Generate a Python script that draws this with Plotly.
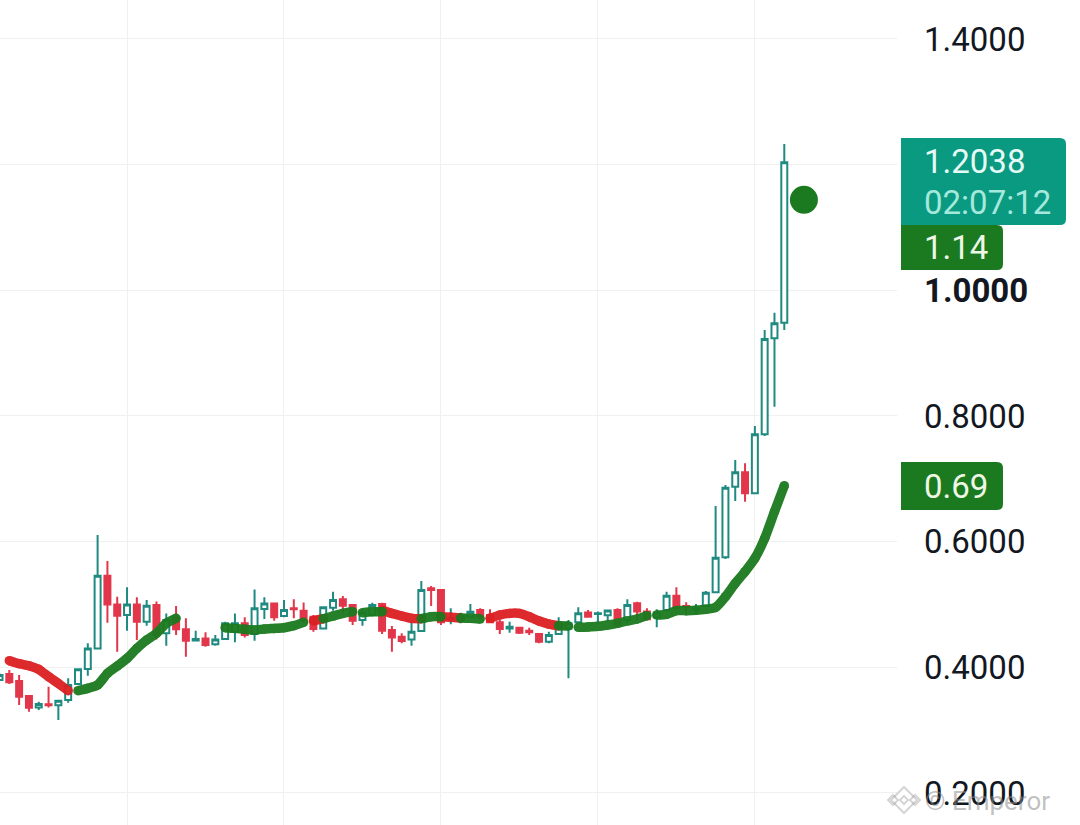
"""Candlestick chart with a thick moving average line and price labels on the right."""
import plotly.graph_objects as go

opens = [.3797, .3893, .3781, .3543, .3362, .3410, .3394, .3479, .3734, .3972,
         .4301, .5458, .5001, .4832, .5001, .4726, .4991, .4540, .4795, .4604,
         .4428, .4460, .4365, .4450, .4566, .4699, .4529, .4927, .5017, .4816,
         .4938, .4901, .4805, .4619, .4948, .5081, .4991, .4752, .4832, .5007,
         .4593, .4487, .4444, .4577, .5256, .5230, .4763, .4779, .4805, .4911,
         .4832, .4715, .4619, .4630, .4582, .4529, .4407, .4529, .4619, .4715,
         .4870, .4849, .4827, .4912, .4753, .5018, .4886, .4796, .4912, .5140,
         .4976, .4912, .4976, .5193, .5750, .6875, .7103, .6769, .7708, .9235,
         .9485]
highs = [.3900, .3956, .3877, .3543, .3452, .3691, .3479, .3824, .3983, .4381,
         .6105, .5691, .5123, .5272, .5113, .5070, .5049, .4858, .4975, .4779,
         .4582, .4556, .4513, .4726, .4858, .4795, .5240, .5113, .5033, .5070,
         .5081, .5033, .4832, .4970, .5203, .5134, .4991, .4911, .5028, .5028,
         .4657, .4540, .4715, .5373, .5293, .5240, .4938, .4869, .5007, .4938,
         .4922, .4752, .4726, .4646, .4630, .4540, .4566, .4795, .4752, .4954,
         .4912, .4886, .4912, .4939, .5082, .5045, .4939, .4923, .5204, .5273,
         .5034, .5008, .5215, .6567, .6901, .7299, .7246, .7841, .9368, .9644,
         1.2328]
lows = [.3780, .3734, .3399, .3293, .3320, .3362, .3161, .3436, .3718, .3866,
        .4301, .4710, .4248, .4582, .4434, .4662, .4444, .4344, .4513, .4169,
        .4428, .4328, .4344, .4450, .4397, .4476, .4423, .4768, .4741, .4795,
        .4779, .4699, .4566, .4600, .4901, .4858, .4673, .4662, .4822, .4529,
        .4248, .4381, .4344, .4570, .4975, .4673, .4683, .4699, .4779, .4763,
        .4715, .4529, .4551, .4529, .4513, .4381, .4381, .4529, .3824, .4700,
        .4806, .4700, .4726, .4647, .4700, .4753, .4753, .4636, .4886, .4912,
        .4843, .4843, .4976, .5193, .5724, .6647, .6636, .6769, .7681, .8148,
        .9368]
closes = [.3877, .3760, .3532, .3357, .3415, .3394, .3468, .3718, .3967, .4301,
          .5458, .5001, .4821, .5001, .4726, .4980, .4513, .4752, .4604, .4423,
          .4450, .4354, .4444, .4699, .4699, .4513, .4938, .5017, .4795, .4911,
          .4922, .4752, .4609, .4954, .5070, .4980, .4741, .4869, .4991, .4582,
          .4476, .4418, .4566, .5230, .5230, .4715, .4789, .4805, .4885, .4805,
          .4715, .4609, .4646, .4551, .4556, .4407, .4513, .4699, .4699, .4859,
          .4806, .4859, .4902, .4674, .4992, .4886, .4764, .4870, .5140, .4939,
          .4955, .4939, .5188, .5745, .6859, .7103, .6769, .7708, .9225, .9474,
          1.2038]

# moving average pieces, each one is (first candle, values)
ma_red = [
    (1, [.4105, .4057, .4025, .3967, .3850, .3742, .3627]),
    (32, [.4741, .4773]),
    (39, [.4906, .4858, .4816, .4779, .4773]),
    (45, [.4805, .4795, .4784]),
    (50, [.4779, .4832, .4858, .4858, .4805, .4736, .4688, .4662]),
]
ma_green = [
    (8, [.3627, .3665, .3718, .3903, .4020, .4142, .4301, .4434, .4540, .4699, .4779]),
    (23, [.4630, .4619, .4604, .4593, .4609, .4619, .4630, .4662, .4715]),
    (33, [.4773, .4816, .4858, .4885]),
    (37, [.4869, .4885, .4885]),
    (43, [.4773, .4805, .4805]),
    (47, [.4784, .4779, .4768]),
    (57, [.4662, .4657]),
    (59, [.4636, .4642, .4652, .4674, .4700, .4737, .4769, .4822]),
    (67, [.4832, .4843, .4901, .4901, .4907, .4923, .4954, .5124, .5336, .5522,
          .5734, .6053, .6477, .6891]),
]

dot_x = 82
dot_value = 1.144

grid_candles = [13, 29, 45, 61, 77]
price_ticks = [1.4, 1.2, 1.0, 0.8, 0.6, 0.4, 0.2]
price_labels = ['1.4000', '', '<b>1.0000</b>', '0.8000', '0.6000', '0.4000', '0.2000']

WIDTH = 1080
HEIGHT = 825
TEAL = '#1f8a80'
RED = '#e2364a'
MA_GREEN = '#1b7a1f'
MA_RED = '#dc1f22'
FONT = 'Roboto'


def px_x(x):
    return x / WIDTH


def px_y(y):
    return 1 - y / HEIGHT


def tag_path(x0, y0, x1, y1, r=6):
    """Rectangle with rounded corners on the right side, in paper coordinates."""
    return (f'M {px_x(x0)} {px_y(y0)} L {px_x(x1 - r)} {px_y(y0)} '
            f'Q {px_x(x1)} {px_y(y0)} {px_x(x1)} {px_y(y0 + r)} '
            f'L {px_x(x1)} {px_y(y1 - r)} '
            f'Q {px_x(x1)} {px_y(y1)} {px_x(x1 - r)} {px_y(y1)} '
            f'L {px_x(x0)} {px_y(y1)} Z')


def diamond_path(cx, cy, r):
    return (f'M {px_x(cx)} {px_y(cy - r)} L {px_x(cx + r)} {px_y(cy)} '
            f'L {px_x(cx)} {px_y(cy + r)} L {px_x(cx - r)} {px_y(cy)} Z')


fig = go.Figure()
fig.add_trace(go.Candlestick(
    x=list(range(len(opens))), open=opens, high=highs, low=lows, close=closes,
    whiskerwidth=0,
    increasing={'line': {'color': TEAL, 'width': 2}, 'fillcolor': 'white'},
    decreasing={'line': {'color': RED, 'width': 2}, 'fillcolor': RED},
    showlegend=False))

for segments, color in [(ma_red, MA_RED), (ma_green, MA_GREEN)]:
    for start, values in segments:
        fig.add_trace(go.Scatter(
            x=list(range(start, start + len(values))), y=values, mode='lines+markers',
            line={'color': color, 'width': 9.5, 'shape': 'spline', 'smoothing': 0.6},
            marker={'color': color, 'size': 9.5},
            opacity=0.95, showlegend=False))

fig.add_trace(go.Scatter(x=[dot_x], y=[dot_value], mode='markers',
                         marker={'color': MA_GREEN, 'size': 28}, showlegend=False))

shapes = [
    {'type': 'path', 'path': tag_path(901, 138, 1066, 225), 'fillcolor': '#0a9981',
     'xref': 'paper', 'yref': 'paper', 'line': {'width': 0}},
    {'type': 'path', 'path': tag_path(901, 225, 1003, 270), 'fillcolor': MA_GREEN,
     'xref': 'paper', 'yref': 'paper', 'line': {'width': 0}},
    {'type': 'path', 'path': tag_path(901, 462, 1003, 510), 'fillcolor': MA_GREEN,
     'xref': 'paper', 'yref': 'paper', 'line': {'width': 0}},
]
# little logo next to the watermark
for cx, cy, r in [(904, 800, 13), (893, 800, 5), (915, 800, 5), (904, 800, 4)]:
    shapes.append({'type': 'path', 'path': diamond_path(cx, cy, r), 'xref': 'paper', 'yref': 'paper',
                   'line': {'color': 'rgba(150,150,150,0.4)', 'width': 2}})

annotations = []
for text, x, y, color in [('1.2038', 922, 162, '#e6fbf6'), ('02:07:12', 922, 202, '#a5e8dc'),
                          ('1.14', 922, 248, '#eef7e6'), ('0.69', 922, 486, '#eef7e6')]:
    annotations.append({'text': text, 'x': px_x(x), 'y': px_y(y), 'xref': 'paper', 'yref': 'paper',
                        'xanchor': 'left', 'yanchor': 'middle', 'showarrow': False,
                        'font': {'family': FONT, 'size': 33, 'color': color}})
annotations.append({'text': '© Emperor', 'x': px_x(923), 'y': px_y(801), 'xref': 'paper',
                    'yref': 'paper', 'xanchor': 'left', 'yanchor': 'middle', 'showarrow': False,
                    'font': {'family': FONT, 'size': 26, 'color': 'rgba(140,140,140,0.55)'}})

fig.update_layout(
    width=WIDTH, height=HEIGHT, margin={'l': 0, 'r': 0, 't': 0, 'b': 0},
    paper_bgcolor='white', plot_bgcolor='white', showlegend=False,
    shapes=shapes, annotations=annotations, boxgap=0.39, boxgroupgap=0,
    xaxis={'domain': [0, 897 / WIDTH], 'range': [0.05, 91.49], 'tickmode': 'array',
           'tickvals': grid_candles, 'ticktext': [''] * len(grid_candles), 'showgrid': True,
           'gridcolor': '#f0f0f0', 'gridwidth': 1, 'zeroline': False, 'showline': False,
           'rangeslider': {'visible': False}},
    yaxis={'side': 'right', 'range': [0.149, 1.462], 'tickmode': 'array',
           'tickvals': price_ticks, 'ticktext': price_labels, 'ticklabelstandoff': 26,
           'tickfont': {'family': FONT, 'size': 33, 'color': '#131722'}, 'showgrid': True,
           'gridcolor': '#f0f0f0', 'gridwidth': 1, 'zeroline': False, 'showline': False,
           'automargin': False})

# the page default margin would push the plot off by 8px
fig.write_html("out.html", config={'displayModeBar': False},
               post_script="document.body.style.margin='0';")
